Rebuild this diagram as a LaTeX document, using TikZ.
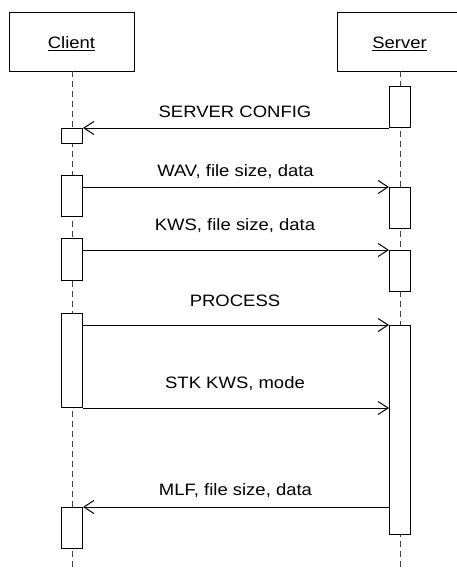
\documentclass[tikz,border=0pt]{standalone}
\usepackage{fontspec}
\setmainfont[FakeStretch=1.12]{Liberation Sans}
\usetikzlibrary{arrows.meta}
\begin{document}
\begin{tikzpicture}[x=1pt,y=-1pt,line width=1pt,
  obj/.style={draw, minimum width=125pt, minimum height=59pt, anchor=north, inner sep=0pt},
  objlab/.style={anchor=base, inner sep=0pt, font=\fontsize{16.5}{18}\selectfont},
  act/.style={draw, fill=white, minimum width=21pt, anchor=north, inner sep=0pt},
  life/.style={dash pattern=on 6pt off 4pt, draw=black!75},
  msg/.style={-{Straight Barb[length=10pt,width=13pt]}},
  lab/.style={anchor=base, inner sep=0pt, font=\fontsize{16.5}{18}\selectfont}]
\useasboundingbox (0,0) rectangle (456,570);
% objects
\node[obj] (client) at (71.5,12) {};
\node[obj] (server) at (400,12) {};
\node[objlab] (clientlab) at (71.5,48.3) {\underline{Client}};
\node[objlab] (serverlab) at (399.5,48.3) {\underline{Server}};
% lifelines
\coordinate (cend) at (72,570);
\coordinate (send) at (400,570);
\coordinate (ctop) at (72,71);
\coordinate (stop) at (400,71);
\draw[life] (ctop) -- (cend);
\draw[life] (stop) -- (send);
% activations
\node[act, minimum height=41pt] (sa1) at (400,86) {};
\node[act, minimum height=15pt] (ca1) at (72,128) {};
\node[act, minimum height=41pt] (ca2) at (72,175) {};
\node[act, minimum height=41pt] (sa2) at (400,187) {};
\node[act, minimum height=42pt] (ca3) at (72,238) {};
\node[act, minimum height=41pt] (sa3) at (400,250) {};
\node[act, minimum height=94pt] (ca4) at (72,313) {};
\node[act, minimum height=209pt] (sa4) at (400,325) {};
\node[act, minimum height=41pt] (ca5) at (72,507) {};
% messages
\draw[msg] (sa1.south west) -- (sa1.south west -| ca1.east);
\draw[msg] (sa2.north west -| ca2.east) -- (sa2.north west);
\draw[msg] (sa3.north west -| ca3.east) -- (sa3.north west);
\draw[msg] (sa4.north west -| ca4.east) -- (sa4.north west);
\draw[msg] (ca4.south east) -- (ca4.south east -| sa4.west);
\draw[msg] (ca5.north east -| sa4.west) -- (ca5.north east);
% labels
\node[lab] (l1) at (235,117.6) {SERVER CONFIG};
\node[lab] (l2) at (235.5,176.5) {WAV, file size, data};
\node[lab] (l3) at (235,230) {KWS, file size, data};
\node[lab] (l4) at (235,306) {PROCESS};
\node[lab] (l5) at (235,388) {STK KWS, mode};
\node[lab] (l6) at (235.5,495) {MLF, file size, data};
\end{tikzpicture}
\end{document}
